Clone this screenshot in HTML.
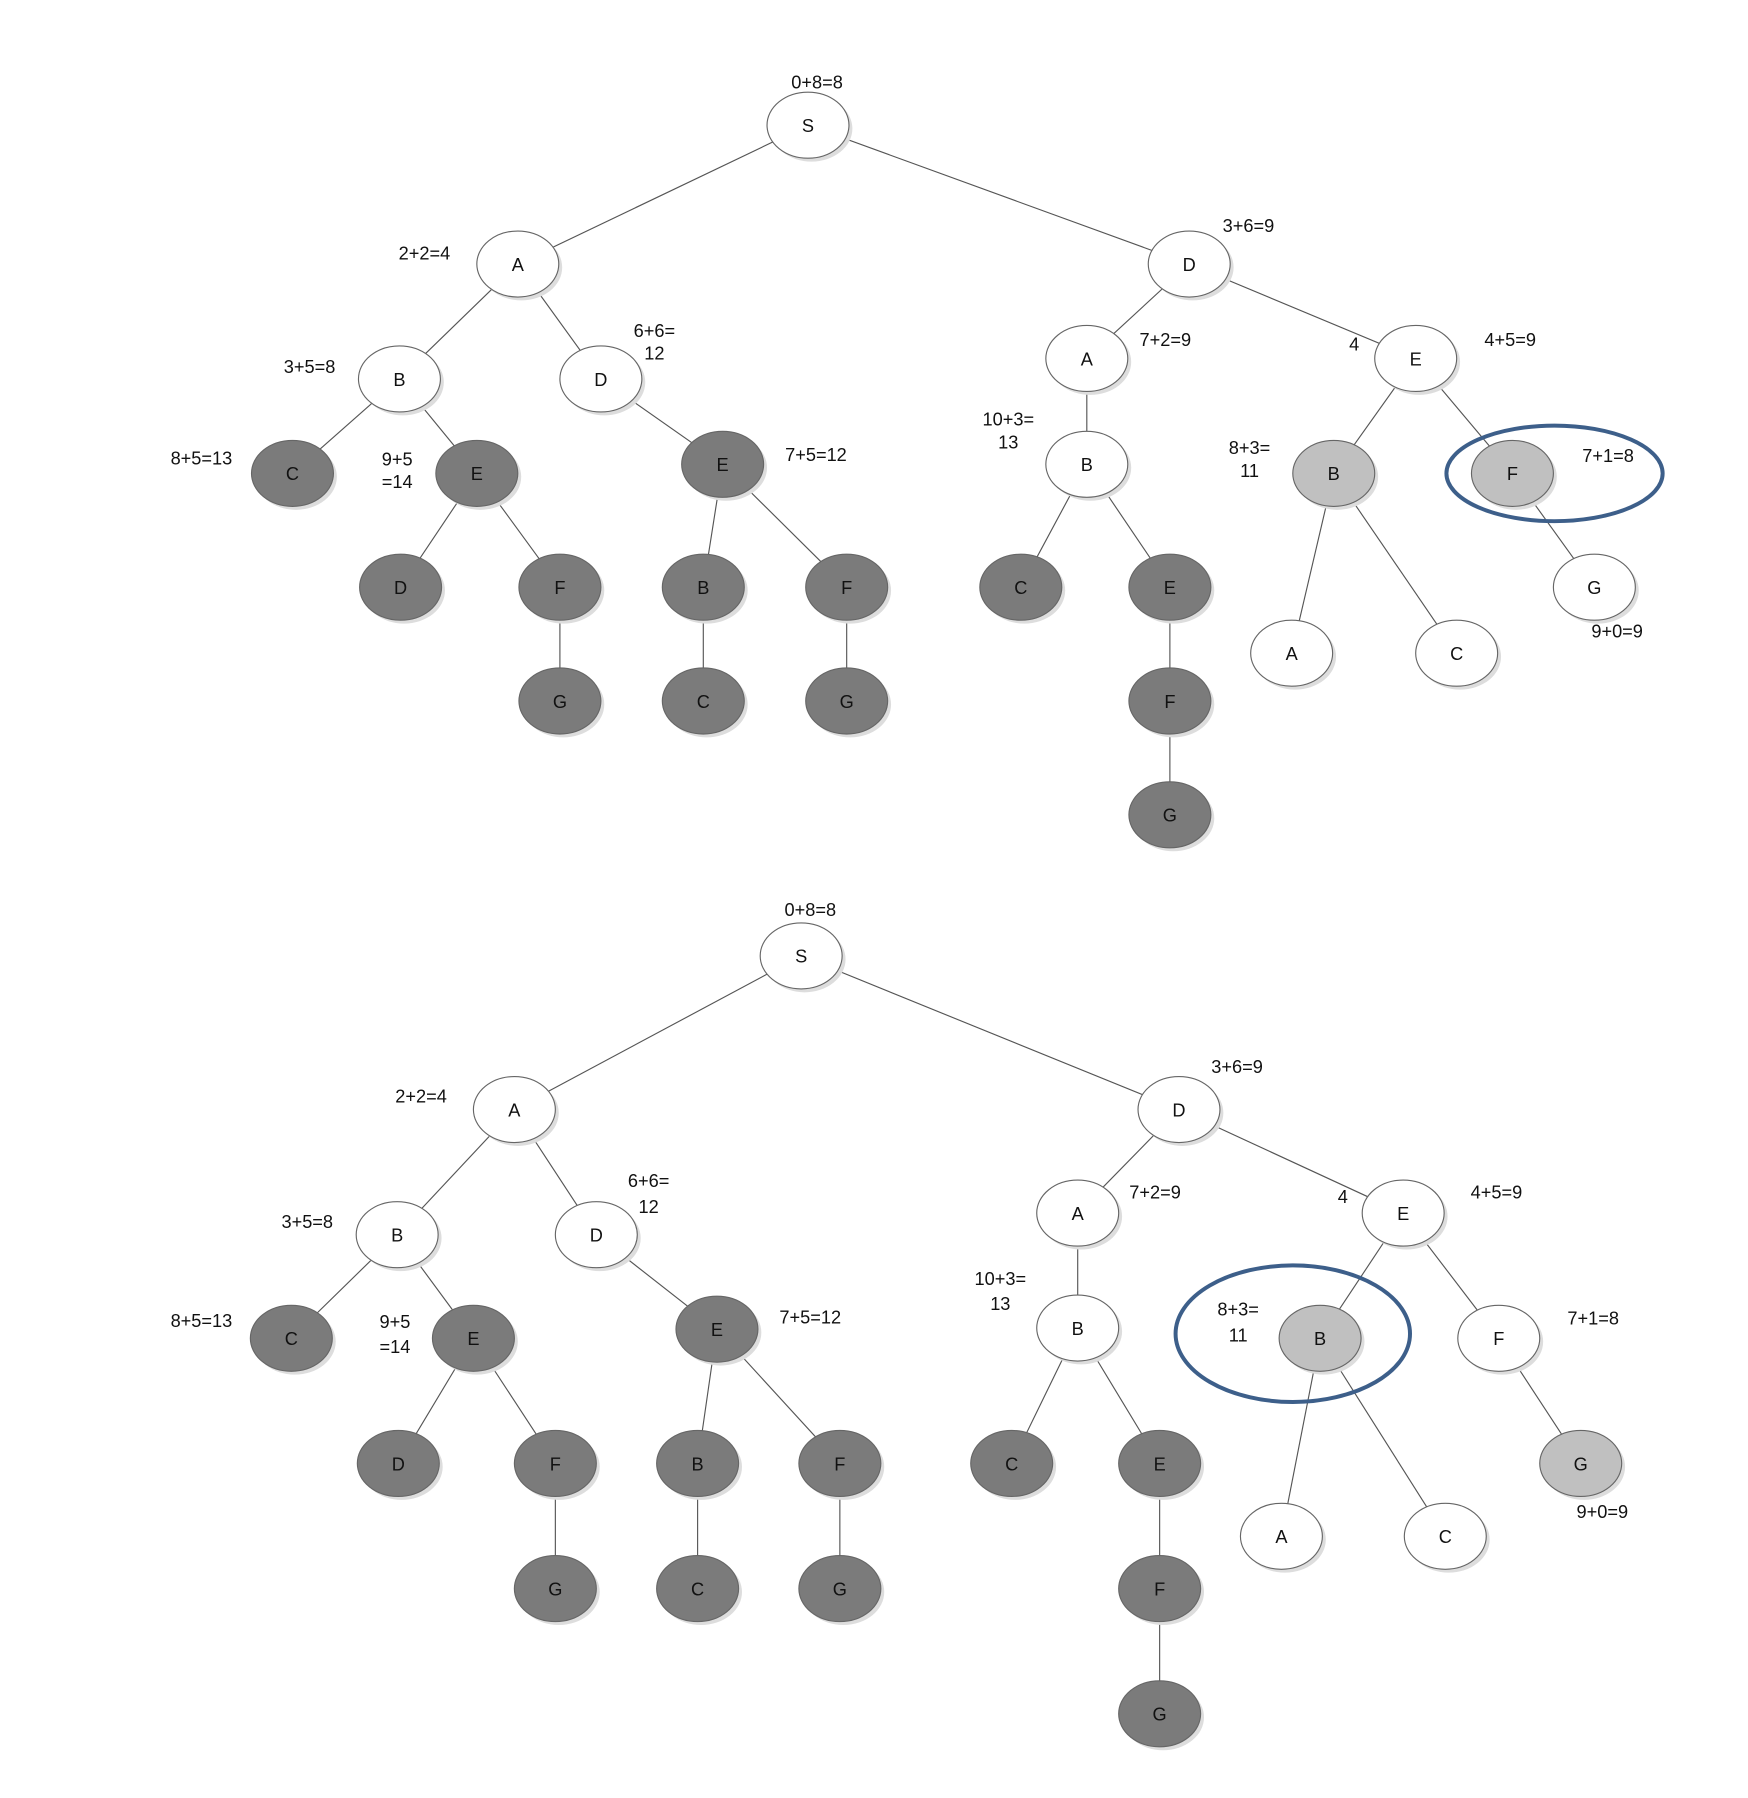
<!DOCTYPE html>
<html><head><meta charset="utf-8"><style>
html,body{margin:0;padding:0;background:#fff;}
svg{display:block;}
text{font-family:"Liberation Sans",sans-serif;}
</style></head><body>
<svg id="s" width="1748" height="1798" viewBox="0 0 1536 1580" preserveAspectRatio="none" xmlns="http://www.w3.org/2000/svg"></svg>
<script>
var W='#fff',D='#7b7b7b',L='#c0c0c0';
function tree(N,E,T,ell){
 var s='';
 E.forEach(function(e){var a=N[e[0]],b=N[e[1]];s+='<line x1="'+a[0]+'" y1="'+a[1]+'" x2="'+b[0]+'" y2="'+b[1]+'" stroke="#555" stroke-width="1"/>';});
 for(var k in N){var n=N[k];
  s+='<ellipse cx="'+(n[0]+3)+'" cy="'+(n[1]+3)+'" rx="36" ry="29" fill="#ddd"/>';
  s+='<ellipse cx="'+n[0]+'" cy="'+n[1]+'" rx="36" ry="29" fill="'+n[3]+'" stroke="#666" stroke-width="1"/>';
  s+='<text x="'+n[0]+'" y="'+(n[1]+6)+'" font-size="16" text-anchor="middle" fill="#111">'+n[2]+'</text>';}
 T.forEach(function(t){s+='<text x="'+t[0]+'" y="'+t[1]+'" font-size="16" text-anchor="middle" fill="#111">'+t[2]+'</text>';});
 s+='<ellipse cx="'+ell[0]+'" cy="'+ell[1]+'" rx="'+ell[2]+'" ry="'+ell[3]+'" fill="none" stroke="#3d5f8a" stroke-width="3.5"/>';
 return s;
}
var out='';
// top tree
out+=tree({
S:[710,110,'S',W],A:[455,232,'A',W],D:[1045,232,'D',W],B:[351,333,'B',W],D2:[528,333,'D',W],
C:[257,416,'C',D],E:[419,416,'E',D],E2:[635,408,'E',D],D3:[352,516,'D',D],F:[492,516,'F',D],G:[492,616,'G',D],
B2:[618,516,'B',D],F2:[744,516,'F',D],C2:[618,616,'C',D],G2:[744,616,'G',D],
RA:[955,315,'A',W],RE:[1244,315,'E',W],RB:[955,408,'B',W],RC:[897,516,'C',D],RE2:[1028,516,'E',D],RF:[1028,616,'F',D],RG:[1028,716,'G',D],
XB:[1172,416,'B',L],XF:[1329,416,'F',L],XG:[1401,516,'G',W],XA:[1135,574,'A',W],XC:[1280,574,'C',W]
},[['S','A'],['S','D'],['A','B'],['A','D2'],['B','C'],['B','E'],['D2','E2'],['E','D3'],['E','F'],['F','G'],['E2','B2'],['E2','F2'],['B2','C2'],['F2','G2'],
['D','RA'],['D','RE'],['RA','RB'],['RB','RC'],['RB','RE2'],['RE2','RF'],['RF','RG'],['RE','XB'],['RE','XF'],['XB','XA'],['XB','XC'],['XF','XG']],
[[718,78,'0+8=8'],[373,228,'2+2=4'],[1097,204,'3+6=9'],[272,328,'3+5=8'],[575,296,'6+6='],[575,316,'12'],[177,408,'8+5=13'],[349,409,'9+5'],[349,429,'=14'],
[717,405,'7+5=12'],[1024,304,'7+2=9'],[1190,308,'4'],[1327,304,'4+5=9'],[886,374,'10+3='],[886,394,'13'],[1098,399,'8+3='],[1098,419,'11'],[1413,406,'7+1=8'],[1421,560,'9+0=9']],
[1366,416,95,42]);
// bottom tree
out+=tree({
S:[704,840,'S',W],A:[452,975,'A',W],D:[1036,975,'D',W],B:[349,1085,'B',W],D2:[524,1085,'D',W],
C:[256,1176,'C',D],E:[416,1176,'E',D],E2:[630,1168,'E',D],D3:[350,1286,'D',D],F:[488,1286,'F',D],G:[488,1396,'G',D],
B2:[613,1286,'B',D],F2:[738,1286,'F',D],C2:[613,1396,'C',D],G2:[738,1396,'G',D],
RA:[947,1066,'A',W],RE:[1233,1066,'E',W],RB:[947,1167,'B',W],RC:[889,1286,'C',D],RE2:[1019,1286,'E',D],RF:[1019,1396,'F',D],RG:[1019,1506,'G',D],
XB:[1160,1176,'B',L],XF:[1317,1176,'F',W],XG:[1389,1286,'G',L],XA:[1126,1350,'A',W],XC:[1270,1350,'C',W]
},[['S','A'],['S','D'],['A','B'],['A','D2'],['B','C'],['B','E'],['D2','E2'],['E','D3'],['E','F'],['F','G'],['E2','B2'],['E2','F2'],['B2','C2'],['F2','G2'],
['D','RA'],['D','RE'],['RA','RB'],['RB','RC'],['RB','RE2'],['RE2','RF'],['RF','RG'],['RE','XB'],['RE','XF'],['XB','XA'],['XB','XC'],['XF','XG']],
[[712,805,'0+8=8'],[370,969,'2+2=4'],[1087,943,'3+6=9'],[270,1079,'3+5=8'],[570,1043,'6+6='],[570,1066,'12'],[177,1166,'8+5=13'],[347,1167,'9+5'],[347,1189,'=14'],
[712,1163,'7+5=12'],[1015,1053,'7+2=9'],[1180,1057,'4'],[1315,1053,'4+5=9'],[879,1129,'10+3='],[879,1151,'13'],[1088,1156,'8+3='],[1088,1179,'11'],[1400,1164,'7+1=8'],[1408,1334,'9+0=9']],
[1136,1172,103,60]);
document.getElementById('s').innerHTML=out;
</script>
</body></html>
